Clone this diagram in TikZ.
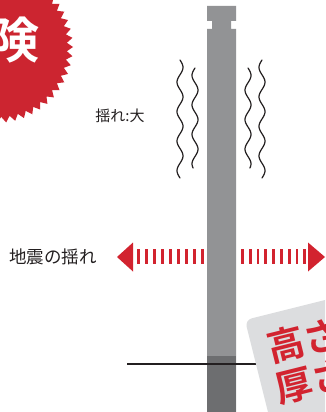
\documentclass[tikz,border=0pt]{standalone}
\usepackage{fontspec}
\newfontfamily\jp{Noto Sans CJK JP}
\newfontfamily\jpb{Noto Sans CJK JP Bold}
\definecolor{burstred}{HTML}{CC2530}
\definecolor{arrred}{HTML}{D2232F}
\definecolor{polegray}{HTML}{929395}
\definecolor{poledark}{HTML}{6D6E70}
\definecolor{cardgray}{HTML}{DCDDDF}
\definecolor{ink}{HTML}{231F20}
\tikzset{
  wave/.style={draw=ink, line width=1.2pt, line cap=round},
  dashbar/.style={fill=arrred, draw=none},
  arrhead/.style={fill=arrred, draw=none},
  label/.style={text=ink, inner sep=0pt},
}
\begin{document}
\begin{tikzpicture}[x=1pt,y=1pt]
\useasboundingbox (0,0) rectangle (325,-412);
\clip (0,0) rectangle (325,-412);
\fill[white] (0,0) rectangle (325,-412);
% starburst
\fill[burstred] plot[samples at={0,...,103}] ({-3+(mod(\x,2)==0 ? 76 : 70)*cos(\x*3.4615)}, {-47+(mod(\x,2)==0 ? 76 : 70)*sin(\x*3.4615)}) -- cycle;
\node[text=white, inner sep=0pt, anchor=east, font=\jpb\fontsize{49}{49}\selectfont] (danger) at (40,-40) {危険};
% pole
\fill[polegray] (207,-6) -- (236,-6) -- (236,-21) -- (231,-21) -- (231,-29) -- (236,-29) -- (236,-412) -- (207,-412) -- (207,-29) -- (212,-29) -- (212,-21) -- (207,-21) -- cycle;
\fill[poledark] (207,-356) rectangle (236,-412);
% waves
\draw[wave] plot[domain=0:118, samples=90, smooth] ({180+3*sin(\x/29.5*360)}, {-60-\x});
\draw[wave] plot[domain=0:100, samples=80, smooth] ({195-3*sin(\x/29.5*360)}, {-68-\x});
\draw[wave] plot[domain=0:100, samples=80, smooth] ({248+3*sin(\x/29.5*360)}, {-68-\x});
\draw[wave] plot[domain=0:118, samples=90, smooth] ({262-3*sin(\x/29.5*360)}, {-60-\x});
% labels
\node[label, font=\jp\fontsize{15}{15}\selectfont] (sway) at (120,-116) {揺れ:大};
\node[label, font=\jp\fontsize{17.5}{17.5}\selectfont] (quake) at (53,-257) {地震の揺れ};
% arrows
\fill[arrhead] (117,-257) -- (133,-242.5) -- (133,-271.5) -- cycle;
\foreach \i in {0,...,8} { \fill[dashbar] ({137+8*\i},-249) rectangle ++(2.7,-15); }
\foreach \i in {0,...,8} { \fill[dashbar] ({241+7.8*\i},-249) rectangle ++(2.7,-15); }
\fill[arrhead] (308,-242.5) -- (325,-257) -- (308,-271.5) -- cycle;
% ground line
\coordinate (g1) at (127,-364);
\coordinate (g2) at (262,-364);
\draw[ink, line width=1.3pt] (g1) -- (g2);
% card
\begin{scope}[shift={(245,-320)}, rotate=14, transform shape]
  \fill[cardgray, rounded corners=7pt] (0,0) rectangle (160,-160);
  \node[text=arrred, inner sep=0pt, anchor=west, font=\jpb\fontsize{37}{37}\selectfont] (height) at (15,-34) {高さ};
  \node[text=arrred, inner sep=0pt, anchor=west, font=\jpb\fontsize{37}{37}\selectfont] (thick) at (13,-76) {厚さ};
\end{scope}
\end{tikzpicture}
\end{document}
